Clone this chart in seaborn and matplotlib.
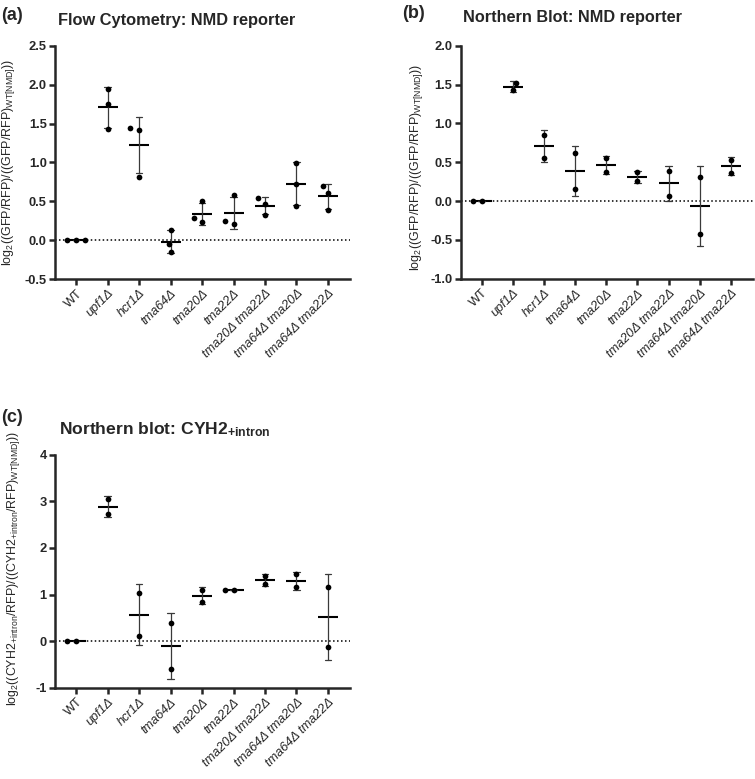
import matplotlib
matplotlib.use("Agg")
import matplotlib.pyplot as plt
import numpy as np
import pandas as pd
import seaborn as sns

sns.set_style("ticks")
plt.rcParams.update({
    "font.family": ["Liberation Sans", "DejaVu Sans"],
    "mathtext.fontset": "custom",
    "mathtext.rm": "Liberation Sans",
    "mathtext.it": "Liberation Sans:italic",
    "mathtext.bf": "Liberation Sans:bold",
})

STRAINS = ["WT", "upf1Δ", "hcr1Δ", "tma64Δ", "tma20Δ", "tma22Δ",
           "tma20Δ tma22Δ", "tma64Δ tma20Δ", "tma64Δ tma22Δ"]

# (a) flow cytometry, 3 replicates per strain
flow_wt = [0.0, 0.0, 0.0]
flow_upf1 = [1.944, 1.756, 1.43]
flow_hcr1 = [1.443, 1.422, 0.81]
flow_tma64 = [0.137, -0.043, -0.15]
flow_tma20 = [0.50, 0.23, 0.287]
flow_tma22 = [0.582, 0.21, 0.253]
flow_tma20_22 = [0.54, 0.467, 0.325]
flow_tma64_20 = [0.998, 0.728, 0.445]
flow_tma64_22 = [0.702, 0.612, 0.39]

# (b) northern blot NMD reporter, 2 replicates
nb_wt = [0.0, 0.0]
nb_upf1 = [1.524, 1.425]
nb_hcr1 = [0.85, 0.558]
nb_tma64 = [0.614, 0.159]
nb_tma20 = [0.549, 0.378]
nb_tma22 = [0.369, 0.257]
nb_tma20_22 = [0.386, 0.069]
nb_tma64_20 = [0.305, -0.429]
nb_tma64_22 = [0.528, 0.365]

# (c) northern blot CYH2+intron, 2 replicates
cyh_wt = [0.0, 0.0]
cyh_upf1 = [3.047, 2.724]
cyh_hcr1 = [1.025, 0.108]
cyh_tma64 = [0.387, -0.605]
cyh_tma20 = [1.104, 0.846]
cyh_tma22 = [1.092, 1.10]
cyh_tma20_22 = [1.405, 1.219]
cyh_tma64_20 = [1.434, 1.154]
cyh_tma64_22 = [1.161, -0.135]


def _frame(groups):
    rows = []
    for strain, vals in zip(STRAINS, groups):
        rows += [(strain, v) for v in vals]
    return pd.DataFrame(rows, columns=["strain", "value"])


def _panel(ax, df, ylim, yticks, yfmt):
    ax.axhline(0, color="black", linestyle=(0, (1, 1.6)), linewidth=1.1, zorder=0)
    sns.pointplot(data=df, x="strain", y="value", order=STRAINS,
                  errorbar="sd", linestyle="none", marker="_",
                  markersize=14, markeredgewidth=1.5, color="black",
                  capsize=0.2, err_kws={"linewidth": 0.9, "color": "#3a3a3a"},
                  ax=ax, zorder=3)
    n_before = len(ax.collections)
    # swarm spacing follows the marker size, so lay out with a wider marker
    sns.swarmplot(data=df, x="strain", y="value", order=STRAINS,
                  color="black", size=6.1, marker="o", linewidth=0,
                  ax=ax, zorder=4)
    ax.set_xlim(-0.67, len(STRAINS) - 0.3)
    ax.set_ylim(*ylim)
    ax.set_yticks(yticks)
    ax.set_yticklabels([yfmt.format(t) for t in yticks], fontweight="bold",
                       fontsize=9.3)
    ax.set_xticks(range(len(STRAINS)))
    ax.set_xticklabels(STRAINS, rotation=45, ha="right",
                       rotation_mode="anchor", fontsize=9.2)
    for lab in ax.get_xticklabels():
        if lab.get_text() != "WT":
            lab.set_fontstyle("italic")
    ax.set_xlabel("")
    for side in ["top", "right"]:
        ax.spines[side].set_visible(False)
    for side in ["left", "bottom"]:
        ax.spines[side].set_linewidth(1.8)
    ax.tick_params(width=1.8, length=4.5, pad=1.5)
    return ax.collections[n_before:]


fig = plt.figure(figsize=(7.55, 7.79), dpi=100)
ax_a = fig.add_axes([0.0728, 0.6418, 0.3908, 0.2992])
ax_b = fig.add_axes([0.6102, 0.6422, 0.3868, 0.2991])
ax_c = fig.add_axes([0.0728, 0.1172, 0.3908, 0.2991])

flow_df = _frame([flow_wt, flow_upf1, flow_hcr1, flow_tma64, flow_tma20,
                  flow_tma22, flow_tma20_22, flow_tma64_20, flow_tma64_22])
nb_df = _frame([nb_wt, nb_upf1, nb_hcr1, nb_tma64, nb_tma20,
                nb_tma22, nb_tma20_22, nb_tma64_20, nb_tma64_22])
cyh_df = _frame([cyh_wt, cyh_upf1, cyh_hcr1, cyh_tma64, cyh_tma20,
                 cyh_tma22, cyh_tma20_22, cyh_tma64_20, cyh_tma64_22])

swarms = []
swarms += _panel(ax_a, flow_df, (-0.5, 2.5), np.arange(-0.5, 2.51, 0.5), "{:.1f}")
swarms += _panel(ax_b, nb_df, (-1.0, 2.0), np.arange(-1.0, 2.01, 0.5), "{:.1f}")
swarms += _panel(ax_c, cyh_df, (-1, 4), np.arange(-1, 5, 1), "{:.0f}")

gfp_label = r"log$_2$((GFP/RFP)/((GFP/RFP)$_{\mathregular{WT[NMD]}}$))"
cyh_label = (r"log$_2$((CYH2$_{\mathregular{+intron}}$/RFP)/"
             r"((CYH2$_{\mathregular{+intron}}$/RFP)$_{\mathregular{WT[NMD]}}$))")
ax_a.set_ylabel(gfp_label, fontsize=9)
ax_a.yaxis.set_label_coords(-0.129, 0.5)
ax_b.set_ylabel(gfp_label, fontsize=9)
ax_b.yaxis.set_label_coords(-0.122, 0.48)
ax_c.set_ylabel(cyh_label, fontsize=8.9)
ax_c.yaxis.set_label_coords(-0.112, 0.51)

fig.text(0.002, 0.974, "(a)", fontsize=13, fontweight="bold", va="baseline")
fig.text(0.532, 0.977, "(b)", fontsize=13, fontweight="bold", va="baseline")
fig.text(0.002, 0.458, "(c)", fontsize=13, fontweight="bold", va="baseline")
fig.text(0.077, 0.968, "Flow Cytometry: NMD reporter", fontsize=11.8,
         fontweight="bold", va="baseline")
fig.text(0.613, 0.972, "Northern Blot: NMD reporter", fontsize=11.7,
         fontweight="bold", va="baseline")
fig.text(0.078, 0.443, r"Northern blot: CYH2$_{\mathbf{+intron}}$", fontsize=12.6,
         fontweight="bold", va="baseline")

# fix the swarm layout, then draw the dots smaller like the original
fig.canvas.draw()
for coll in swarms:
    coll.__dict__.pop("draw", None)
    coll.set_sizes([17])

fig.savefig("out.png", dpi=100)
